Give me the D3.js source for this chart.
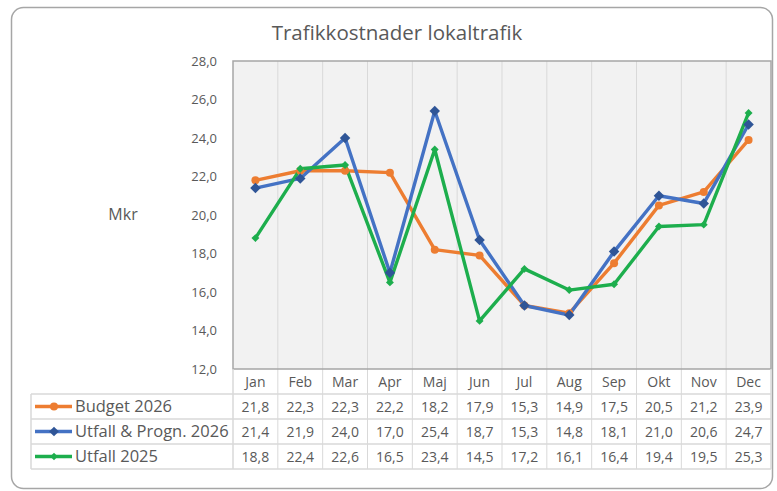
<!DOCTYPE html>
<html>
<head>
<meta charset="utf-8">
<script src="https://cdn.jsdelivr.net/npm/d3@7"></script>
<style>
  body { margin: 0; background: #fff; }
  text { font-family: "Open Sans", "Noto Sans", sans-serif; fill: #595959; }
</style>
</head>
<body>
<div id="chart"></div>
<script>
const months = ["Jan", "Feb", "Mar", "Apr", "Maj", "Jun", "Jul", "Aug", "Sep", "Okt", "Nov", "Dec"];
const budget2026 = [21.8, 22.3, 22.3, 22.2, 18.2, 17.9, 15.3, 14.9, 17.5, 20.5, 21.2, 23.9];
const utfallProgn2026 = [21.4, 21.9, 24.0, 17.0, 25.4, 18.7, 15.3, 14.8, 18.1, 21.0, 20.6, 24.7];
const utfall2025 = [18.8, 22.4, 22.6, 16.5, 23.4, 14.5, 17.2, 16.1, 16.4, 19.4, 19.5, 25.3];
const yTicks = [12, 14, 16, 18, 20, 22, 24, 26, 28];

const series = [
  { name: "Budget 2026", values: budget2026, color: "#ED7D31", marker: "circle", mcolor: "#ED7D31" },
  { name: "Utfall & Progn. 2026", values: utfallProgn2026, color: "#4472C4", marker: "diamond", mcolor: "#2F5597" },
  { name: "Utfall 2025", values: utfall2025, color: "#1DAE4D", marker: "diamond", mcolor: "#1DAE4D" }
];

const W = 777, H = 491;
const plotL = 233, plotR = 771, plotT = 61, plotB = 369;
const rowH = 25;

const svg = d3.select("#chart").append("svg").attr("width", W).attr("height", H);

// outer frame
svg.append("rect")
  .attr("x", 11.5).attr("y", 7.5).attr("width", 761).attr("height", 481)
  .attr("rx", 12).attr("fill", "#fff").attr("stroke", "#a6a6a6").attr("stroke-width", 1.5);

svg.append("text")
  .attr("x", 397).attr("y", 40).attr("text-anchor", "middle")
  .attr("font-size", 20.5).text("Trafikkostnader lokaltrafik");

const x = d3.scaleBand().domain(months).range([plotL, plotR]);
const y = d3.scaleLinear().domain([12, 28]).range([plotB, plotT]);

// plot background
svg.append("rect")
  .attr("x", plotL).attr("y", plotT).attr("width", plotR - plotL).attr("height", plotB - plotT)
  .attr("fill", "#f2f2f2");

// vertical gridlines (category separators), extend through the table
svg.selectAll(".vgrid")
  .data(months.slice(1))
  .enter().append("line")
  .attr("x1", d => x(d)).attr("x2", d => x(d))
  .attr("y1", plotT).attr("y2", plotB + rowH * 4)
  .attr("stroke", "#d9d9d9").attr("stroke-width", 1);

// plot border
svg.append("rect")
  .attr("x", plotL).attr("y", plotT).attr("width", plotR - plotL).attr("height", plotB - plotT)
  .attr("fill", "none").attr("stroke", "#a6a6a6").attr("stroke-width", 1.5);

// y axis labels
const yAxis = d3.axisLeft(y).tickValues(yTicks).tickSize(0).tickPadding(16)
  .tickFormat(d => d3.format(".1f")(d).replace(".", ","));
const yg = svg.append("g").attr("transform", `translate(${plotL},0)`).call(yAxis);
yg.select(".domain").remove();
yg.selectAll("text").attr("font-size", 13).attr("fill", "#595959")
  .style("font-family", "'Open Sans', sans-serif");

svg.append("text").attr("x", 123).attr("y", 220).attr("text-anchor", "middle")
  .attr("font-size", 16).text("Mkr");

// lines
const line = d3.line()
  .x((d, i) => x(months[i]) + x.bandwidth() / 2)
  .y(d => y(d));

series.forEach(s => {
  svg.append("path").datum(s.values)
    .attr("d", line).attr("fill", "none")
    .attr("stroke", s.color).attr("stroke-width", 3.4)
    .attr("stroke-linejoin", "round");
});

const diamond = d3.symbol().type(d3.symbolDiamond2);
series.forEach((s, si) => {
  const g = svg.append("g");
  s.values.forEach((v, i) => {
    const cx = x(months[i]) + x.bandwidth() / 2, cy = y(v);
    if (s.marker === "circle") {
      g.append("circle").attr("cx", cx).attr("cy", cy).attr("r", 4).attr("fill", s.mcolor);
    } else {
      g.append("path").attr("d", diamond.size(si === 1 ? 70 : 40)())
        .attr("transform", `translate(${cx},${cy})`).attr("fill", s.mcolor);
    }
  });
});

// data table
const tableLeft = 31;
const gridColor = "#d9d9d9";
// month header
svg.selectAll(".mlabel").data(months).enter().append("text")
  .attr("x", d => x(d) + x.bandwidth() / 2).attr("y", plotB + 18)
  .attr("text-anchor", "middle").attr("font-size", 14).text(d => d);

// horizontal lines
[0, 1, 2, 3].forEach(r => {
  svg.append("line")
    .attr("x1", tableLeft).attr("x2", plotR)
    .attr("y1", plotB + rowH * (r + 1)).attr("y2", plotB + rowH * (r + 1))
    .attr("stroke", gridColor).attr("stroke-width", 1.5);
});
// table side lines
svg.append("line").attr("x1", tableLeft).attr("x2", tableLeft)
  .attr("y1", plotB + rowH).attr("y2", plotB + rowH * 4).attr("stroke", gridColor).attr("stroke-width", 1.5);
svg.append("line").attr("x1", plotL).attr("x2", plotL)
  .attr("y1", plotB).attr("y2", plotB + rowH * 4).attr("stroke", gridColor).attr("stroke-width", 1.5);
svg.append("line").attr("x1", plotR).attr("x2", plotR)
  .attr("y1", plotB).attr("y2", plotB + rowH * 4).attr("stroke", gridColor).attr("stroke-width", 1.5);

series.forEach((s, r) => {
  const cy = plotB + rowH * (r + 1) + rowH / 2;
  // legend key
  svg.append("line").attr("x1", 35).attr("x2", 72).attr("y1", cy).attr("y2", cy)
    .attr("stroke", s.color).attr("stroke-width", 3.4);
  if (s.marker === "circle") {
    svg.append("circle").attr("cx", 54).attr("cy", cy).attr("r", 4).attr("fill", s.mcolor);
  } else {
    svg.append("path").attr("d", diamond.size(r === 1 ? 60 : 35)())
      .attr("transform", `translate(54,${cy})`).attr("fill", s.mcolor);
  }
  svg.append("text").attr("x", 75).attr("y", cy + 5.5).attr("font-size", 16.5).text(s.name);
  svg.selectAll(null).data(s.values).enter().append("text")
    .attr("x", (d, i) => x(months[i]) + x.bandwidth() / 2).attr("y", cy + 5)
    .attr("text-anchor", "middle").attr("font-size", 14)
    .text(d => d3.format(".1f")(d).replace(".", ","));
});
</script>
</body>
</html>
